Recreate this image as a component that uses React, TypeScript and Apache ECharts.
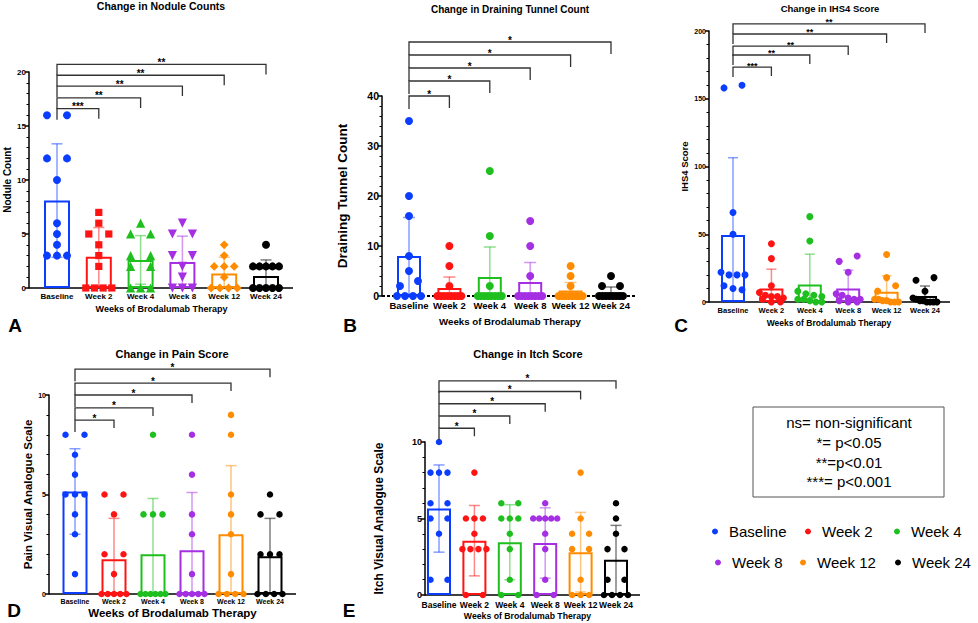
import React, { useEffect, useRef } from "react";
import * as echarts from "echarts";

const FONT = "'Liberation Sans', Arial, Helvetica, sans-serif";

const groups = ["Baseline", "Week 2", "Week 4", "Week 8", "Week 12", "Week 24"];
const groupColors = ["#0b3dff", "#ff1414", "#1fbf1f", "#a52fe3", "#ff8c00", "#000000"];
const xAxisTitle = "Weeks of Brodalumab Therapy";
const bracketTargets = [1, 2, 3, 4, 5];

// Panel A – nodule counts
const noduleTitle = "Change in Nodule Counts";
const noduleYName = "Nodule Count";
const noduleMeans = [8.1, 2.9, 2.6, 2.4, 1.35, 1.1];
const noduleSD = [5.25, 2.7, 2.25, 2.4, 1.5, 1.5];
const noduleBaseline = [16, 16, 12, 12, 10, 6, 5, 4, 3, 3, 3];
const noduleWeek2 = [7, 6, 5, 5, 4, 3, 2, 0, 0, 0, 0];
const noduleWeek4 = [6, 5, 5, 3, 3, 2, 2, 0, 0, 0];
const noduleWeek8 = [6, 5, 5, 3, 3, 2, 1, 0, 0, 0];
const noduleWeek12 = [4, 3, 2, 2, 2, 1, 0, 0, 0, 0];
const noduleWeek24 = [4, 2, 2, 2, 2, 2, 0, 0, 0, 0, 0];
const noduleBracketY = [16.6, 17.6, 18.7, 19.7, 20.7];
const noduleBracketLabels = ["***", "**", "**", "**", "**"];

// Panel B – draining tunnels
const tunnelTitle = "Change in Draining Tunnel Count";
const tunnelYName = "Draining Tunnel Count";
const tunnelMeans = [8.0, 1.6, 3.8, 2.8, 1.1, 0.7];
const tunnelSD = [7.7, 2.2, 6.0, 3.9, 1.6, 1.1];
const tunnelBaseline = [35, 20, 16, 8, 5, 3, 2, 0, 0, 0, 0];
const tunnelWeek2 = [10, 6, 2, 0, 0, 0, 0, 0, 0, 0, 0];
const tunnelWeek4 = [25, 12, 2, 0, 0, 0, 0, 0, 0, 0, 0];
const tunnelWeek8 = [15, 10, 4, 0, 0, 0, 0, 0, 0, 0, 0];
const tunnelWeek12 = [6, 4, 2, 0, 0, 0, 0, 0, 0, 0, 0];
const tunnelWeek24 = [4, 2, 2, 0, 0, 0, 0, 0, 0, 0, 0];
const tunnelBracketY = [40, 43, 45.6, 48.2, 50.8];
const tunnelBracketLabels = ["*", "*", "*", "*", "*"];

// Panel C – IHS4
const ihsTitle = "Change in IHS4 Score";
const ihsYName = "IHS4 Score";
const ihsMeans = [49.5, 10, 13, 10, 7.5, 4.5];
const ihsSD = [57, 14.2, 22.3, 13.5, 11.8, 7.3];
const ihsBaseline = [158, 160, 66, 50, 22, 20, 20, 20, 12, 10, 9];
const ihsWeek2 = [43, 32, 12, 7, 5, 4, 4, 3, 2, 0, 0];
const ihsWeek4 = [63, 45, 8, 6, 5, 4, 2, 2, 1, 0, 0];
const ihsWeek8 = [34, 30, 22, 6, 5, 3, 2, 2, 1, 0, 0];
const ihsWeek12 = [35, 18, 12, 8, 2, 2, 1, 1, 0, 0, 0];
const ihsWeek24 = [18, 16, 8, 3, 2, 1, 1, 0, 0, 0, 0];
const ihsBracketY = [173.4, 182.3, 188.9, 197.8, 205.2];
const ihsBracketLabels = ["***", "**", "**", "**", "**"];

// Panel D – pain
const painTitle = "Change in Pain Score";
const painYName = "Pain Visual Analogue Scale";
const painMeans = [5.15, 1.75, 2.0, 2.2, 3.0, 1.9];
const painSD = [2.15, 2.05, 2.8, 2.9, 3.45, 1.9];
const painBaseline = [8, 8, 7, 6, 5, 5, 5, 4, 3, 1];
const painWeek2 = [5, 5, 4, 2, 2, 1, 0, 0, 0, 0, 0];
const painWeek4 = [8, 4, 4, 4, 0, 0, 0, 0, 0, 0];
const painWeek8 = [8, 6, 4, 3, 1, 0, 0, 0, 0, 0];
const painWeek12 = [9, 8, 5, 4, 3, 1, 0, 0, 0, 0];
const painWeek24 = [5, 4, 4, 2, 2, 2, 0, 0, 0, 0];
const painBracketY = [8.74, 9.35, 10.0, 10.6, 11.3];
const painBracketLabels = ["*", "*", "*", "*", "*"];

// Panel E – itch
const itchTitle = "Change in Itch Score";
const itchYName = "Itch Visual Analogue Scale";
const itchMeans = [5.65, 3.55, 3.45, 3.4, 2.8, 2.3];
const itchSD = [2.85, 2.3, 2.45, 2.3, 2.6, 2.25];
const itchBaseline = [10, 8, 8, 8, 6, 6, 5, 5, 4, 1, 1];
const itchWeek2 = [8, 5, 5, 5, 4, 3, 3, 3, 3, 0, 0];
const itchWeek4 = [6, 6, 5, 5, 5, 4, 3, 1, 0, 0];
const itchWeek8 = [6, 5, 5, 5, 5, 5, 4, 3, 1, 0, 0];
const itchWeek12 = [8, 5, 4, 4, 3, 3, 1, 0, 0, 0];
const itchWeek24 = [6, 5, 4, 3, 3, 1, 1, 0, 0, 0, 0];
const itchBracketY = [10.9, 11.7, 12.5, 13.3, 14.0];
const itchBracketLabels = ["*", "*", "*", "*", "*"];

const significanceLines = ["ns= non-significant", "*= p<0.05", "**=p<0.01", "***= p<0.001"];

type Layout = {
  yAxisX: number; top: number; bottom: number; c0: number; spacing: number; axisEnd: number;
  barW: number; sym: number; gap: number; capW: number;
  titleX: number; titleY: number; titleSize: number; tickSize: number;
  xLabelSize: number; xLabelMargin: number; yNameSize: number; yNameGap: number;
  xNameSize: number; xNameGap: number; drop: number; dropL: number; starSize: number;
  letter: string; letterX: number; letterY: number; dashed: boolean;
};

const circles = ["circle", "circle", "circle", "circle", "circle", "circle"];
const noRot = [0, 0, 0, 0, 0, 0];

const panels = [
  {
    title: noduleTitle, yName: noduleYName, means: noduleMeans, sd: noduleSD,
    points: [noduleBaseline, noduleWeek2, noduleWeek4, noduleWeek8, noduleWeek12, noduleWeek24],
    bracketY: noduleBracketY, bracketLabels: noduleBracketLabels, max: 20, interval: 5,
    symbols: ["circle", "rect", "triangle", "triangle", "diamond", "circle"], rotates: [0, 0, 0, 180, 0, 0],
    symScale: [1, 0.9, 1.15, 1.15, 1.1, 1],
    layout: {
      yAxisX: 29, top: 72, bottom: 288, c0: 57, spacing: 41.8, axisEnd: 293, barW: 26, sym: 8, gap: 10, capW: 11,
      titleX: 161, titleY: 6, titleSize: 10.5, tickSize: 8, xLabelSize: 8, xLabelMargin: 4, yNameSize: 10, yNameGap: 17,
      xNameSize: 9, xNameGap: 16, drop: 10, dropL: 11, starSize: 10, letter: "A", letterX: 15, letterY: 325, dashed: false,
    } as Layout,
  },
  {
    title: tunnelTitle, yName: tunnelYName, means: tunnelMeans, sd: tunnelSD,
    points: [tunnelBaseline, tunnelWeek2, tunnelWeek4, tunnelWeek8, tunnelWeek12, tunnelWeek24],
    bracketY: tunnelBracketY, bracketLabels: tunnelBracketLabels, max: 40, interval: 10,
    symbols: circles, rotates: noRot, symScale: [1, 1, 1, 1, 1, 1],
    layout: {
      yAxisX: 382, top: 96, bottom: 296, c0: 409, spacing: 40.4, axisEnd: 636, barW: 24, sym: 8, gap: 9, capW: 12,
      titleX: 510, titleY: 9, titleSize: 10, tickSize: 10.5, xLabelSize: 9.5, xLabelMargin: 4, yNameSize: 13.5, yNameGap: 33,
      xNameSize: 9.7, xNameGap: 20, drop: 12, dropL: 13, starSize: 10, letter: "B", letterX: 350, letterY: 325, dashed: true,
    } as Layout,
  },
  {
    title: ihsTitle, yName: ihsYName, means: ihsMeans, sd: ihsSD,
    points: [ihsBaseline, ihsWeek2, ihsWeek4, ihsWeek8, ihsWeek12, ihsWeek24],
    bracketY: ihsBracketY, bracketLabels: ihsBracketLabels, max: 200, interval: 50,
    symbols: circles, rotates: noRot, symScale: [1, 1, 1, 1, 1, 1],
    layout: {
      yAxisX: 709, top: 31, bottom: 302, c0: 733, spacing: 38.4, axisEnd: 950, barW: 24, sym: 7, gap: 9, capW: 10,
      titleX: 830, titleY: 8, titleSize: 9.5, tickSize: 7, xLabelSize: 7.5, xLabelMargin: 4, yNameSize: 9.5, yNameGap: 20,
      xNameSize: 8.5, xNameGap: 16, drop: 9, dropL: 10, starSize: 9, letter: "C", letterX: 681, letterY: 325, dashed: false,
    } as Layout,
  },
  {
    title: painTitle, yName: painYName, means: painMeans, sd: painSD,
    points: [painBaseline, painWeek2, painWeek4, painWeek8, painWeek12, painWeek24],
    bracketY: painBracketY, bracketLabels: painBracketLabels, max: 10, interval: 5,
    symbols: circles, rotates: noRot, symScale: [1, 1, 1, 1, 1, 1],
    layout: {
      yAxisX: 49, top: 395, bottom: 594, c0: 75, spacing: 39, axisEnd: 296, barW: 25, sym: 6.5, gap: 9.5, capW: 11,
      titleX: 172, titleY: 354, titleSize: 11, tickSize: 7, xLabelSize: 7, xLabelMargin: 4, yNameSize: 11.5, yNameGap: 11,
      xNameSize: 11.5, xNameGap: 13, drop: 8, dropL: 12, starSize: 10, letter: "D", letterX: 14, letterY: 610, dashed: false,
    } as Layout,
  },
  {
    title: itchTitle, yName: itchYName, means: itchMeans, sd: itchSD,
    points: [itchBaseline, itchWeek2, itchWeek4, itchWeek8, itchWeek12, itchWeek24],
    bracketY: itchBracketY, bracketLabels: itchBracketLabels, max: 10, interval: 5,
    symbols: circles, rotates: noRot, symScale: [1, 1, 1, 1, 1, 1],
    layout: {
      yAxisX: 425, top: 442, bottom: 595, c0: 439, spacing: 35.4, axisEnd: 640, barW: 24, sym: 6.5, gap: 8.5, capW: 11,
      titleX: 528, titleY: 354, titleSize: 11, tickSize: 9, xLabelSize: 8.5, xLabelMargin: 5, yNameSize: 12, yNameGap: 40,
      xNameSize: 8.7, xNameGap: 16, drop: 8, dropL: 12, starSize: 10, letter: "E", letterX: 349, letterY: 610, dashed: false,
    } as Layout,
  },
];

const legendPos = [[712, 524], [805, 524], [894, 524], [715, 555], [800, 555], [895, 555]];

function spreadOffsets(values: number[], pxPerUnit: number, sym: number, gap: number, maxSpan: number): number[] {
  const order = values.map((_, i) => i).sort((a, b) => values[b] - values[a] || a - b);
  const rows: number[][] = [];
  for (const i of order) {
    const row = rows[rows.length - 1];
    if (row && (values[row[0]] - values[i]) * pxPerUnit < sym * 0.8) row.push(i);
    else rows.push([i]);
  }
  const offs = values.map(() => 0);
  rows.forEach((row) => {
    const n = row.length;
    if (n < 2) return;
    let d = n === 2 ? gap * 2 : gap;
    if (d * (n - 1) > maxSpan) d = maxSpan / (n - 1);
    const ordered = n === 2 ? [...row].sort((a, b) => values[a] - values[b]) : row;
    ordered.forEach((i, k) => {
      offs[i] = (k - (n - 1) / 2) * d;
    });
  });
  return offs;
}

function buildOption() {
  const grid: any[] = [];
  const xAxis: any[] = [];
  const yAxis: any[] = [];
  const series: any[] = [];
  const graphic: any[] = [];

  panels.forEach((p, k) => {
    const L = p.layout;
    const left = L.c0 - L.spacing / 2;
    const pxPerUnit = (L.bottom - L.top) / p.max;
    grid.push({ left, top: L.top, width: L.spacing * 6, height: L.bottom - L.top, containLabel: false });
    xAxis.push({
      type: "category", gridIndex: k, data: groups,
      axisLine: { show: false }, axisTick: { show: false },
      axisLabel: { interval: 0, fontSize: L.xLabelSize, fontWeight: "bold", fontFamily: FONT, color: "#000", margin: L.xLabelMargin },
      name: xAxisTitle, nameLocation: "middle", nameGap: L.xNameGap,
      nameTextStyle: { fontSize: L.xNameSize, fontWeight: "bold", fontFamily: FONT, color: "#000" },
    });
    yAxis.push({
      type: "value", gridIndex: k, min: 0, max: p.max, interval: p.interval, offset: left - L.yAxisX,
      axisLine: { show: true, lineStyle: { color: "#000", width: 1.5 } },
      axisTick: { show: true, length: 4, lineStyle: { color: "#000", width: 1.5 } },
      minorTick: { show: true, splitNumber: 5, length: 2.5, lineStyle: { color: "#000", width: 1 } },
      splitLine: { show: false },
      axisLabel: { fontSize: L.tickSize, fontWeight: "bold", fontFamily: FONT, color: "#000", margin: 3 },
      name: p.yName, nameLocation: "middle", nameGap: L.yNameGap,
      nameTextStyle: { fontSize: L.yNameSize, fontWeight: "bold", fontFamily: FONT, color: "#000" },
    });

    series.push({
      type: "bar", name: p.title + " (mean)", xAxisIndex: k, yAxisIndex: k, barWidth: L.barW, silent: true, z: 2,
      data: p.means.map((m, i) => ({
        value: m,
        itemStyle: { color: "rgba(255,255,255,0)", borderColor: groupColors[i], borderWidth: 2 },
      })),
    });

    series.push({
      type: "custom", name: p.title + " (SD)", xAxisIndex: k, yAxisIndex: k, z: 3, silent: true,
      data: p.means.map((m, i) => [i, m, p.sd[i]]),
      encode: { x: 0, y: 1 },
      renderItem: (params: any, api: any) => {
        const i = api.value(0);
        const m = api.value(1);
        const s = api.value(2);
        const lo = Math.max(0, m - s);
        const a = api.coord([i, lo]);
        const b = api.coord([i, m + s]);
        const c = L.capW / 2;
        const style = { stroke: groupColors[params.dataIndex], lineWidth: 1.5, opacity: 0.5 };
        const children: any[] = [
          { type: "line", shape: { x1: a[0], y1: a[1], x2: b[0], y2: b[1] }, style },
          { type: "line", shape: { x1: b[0] - c, y1: b[1], x2: b[0] + c, y2: b[1] }, style },
        ];
        if (m - s > 0) children.push({ type: "line", shape: { x1: a[0] - c, y1: a[1], x2: a[0] + c, y2: a[1] }, style });
        return { type: "group", children };
      },
    });

    p.points.forEach((vals, i) => {
      const size = L.sym * p.symScale[i];
      const offs = spreadOffsets(vals, pxPerUnit, L.sym, L.gap, L.barW);
      series.push({
        type: "scatter", name: groups[i], xAxisIndex: k, yAxisIndex: k, z: 4,
        symbol: p.symbols[i], symbolRotate: p.rotates[i], symbolSize: size,
        itemStyle: { color: groupColors[i], opacity: 1 },
        data: vals.map((v, j) => ({ value: [i, v], symbolOffset: [offs[j], 0] })),
      });
    });

    series.push({
      type: "custom", name: p.title + " (significance)", xAxisIndex: k, yAxisIndex: k, z: 5, silent: true,
      data: bracketTargets.map((t, j) => [t, p.bracketY[j]]),
      encode: { x: 0, y: 1 },
      renderItem: (params: any, api: any) => {
        const to = api.value(0);
        const y = api.value(1);
        const a = api.coord([0, y]);
        const b = api.coord([to, y]);
        return {
          type: "group",
          children: [
            {
              type: "polyline",
              shape: { points: [[a[0], a[1] + L.dropL], [a[0], a[1]], [b[0], b[1]], [b[0], b[1] + L.drop]] },
              style: { stroke: "#333", lineWidth: 1.3, fill: "none" },
            },
            {
              type: "text", x: (a[0] + b[0]) / 2, y: a[1] + 3,
              style: {
                text: p.bracketLabels[params.dataIndex], align: "center", verticalAlign: "bottom",
                fontSize: L.starSize, fontWeight: "bold", fontFamily: FONT, fill: "#000",
              },
            },
          ],
        };
      },
    });

    graphic.push({
      type: "line", z: 1, silent: true,
      shape: { x1: L.yAxisX, y1: L.bottom, x2: L.axisEnd, y2: L.bottom },
      style: { stroke: "#000", lineWidth: L.dashed ? 2 : 1.5, lineDash: L.dashed ? [3, 2] : null },
    });
    graphic.push({
      type: "text", x: L.titleX, y: L.titleY, silent: true,
      style: { text: p.title, fontSize: L.titleSize, fontWeight: "bold", fontFamily: FONT, fill: "#000", align: "center", verticalAlign: "middle" },
    });
    graphic.push({
      type: "text", x: L.letterX, y: L.letterY, silent: true,
      style: { text: L.letter, fontSize: 19, fontWeight: "bold", fontFamily: FONT, fill: "#000", align: "center", verticalAlign: "middle" },
    });
  });

  graphic.push({
    type: "rect", silent: true, shape: { x: 753, y: 407, width: 191, height: 90 },
    style: { fill: "#fff", stroke: "#555", lineWidth: 1 },
  });
  const boxY = [422, 442, 462, 481];
  significanceLines.forEach((t, i) => {
    graphic.push({
      type: "text", x: 849, y: boxY[i], silent: true,
      style: { text: t, fontSize: 15, fontFamily: FONT, fill: "#000", align: "center", verticalAlign: "middle" },
    });
  });

  const legend = groups.map((g, i) => ({
    data: [g], left: legendPos[i][0], top: legendPos[i][1], padding: 0,
    icon: "circle", itemWidth: 18, itemHeight: 6,
    textStyle: { fontSize: 15, fontFamily: FONT, color: "#000" },
  }));

  return {
    animation: false,
    backgroundColor: "#fff",
    grid, xAxis, yAxis, series, graphic, legend,
  };
}

export default function App() {
  const ref = useRef<HTMLDivElement>(null);
  useEffect(() => {
    if (!ref.current) return;
    const chart = echarts.init(ref.current, null, { renderer: "svg" });
    chart.setOption(buildOption() as any);
    return () => chart.dispose();
  }, []);
  return <div ref={ref} style={{ position: "fixed", left: 0, top: 0, width: 978, height: 623 }} />;
}
